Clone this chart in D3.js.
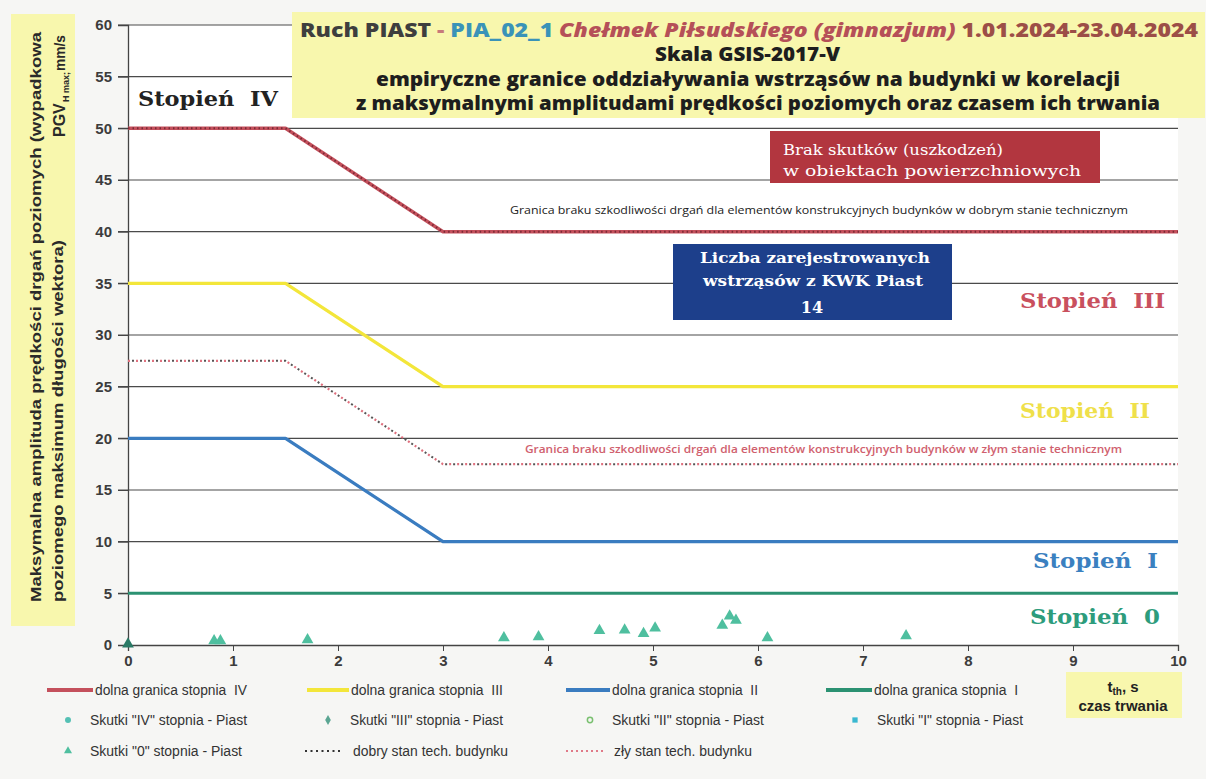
<!DOCTYPE html>
<html><head><meta charset="utf-8">
<script src="https://cdn.jsdelivr.net/npm/d3@7"></script>
<style>
html,body{margin:0;padding:0;background:#f6f6f4;}
svg{display:block;}
</style></head>
<body>
<svg id="chart" width="1206" height="779"></svg>
<script>
// ---------- data ----------
const xTicks = [0,1,2,3,4,5,6,7,8,9,10];
const yTicks = [0,5,10,15,20,25,30,35,40,45,50,55,60];
const limitX = [0, 1.5, 3, 10];
const limitIV  = [50, 50, 40, 40];   // dolna granica stopnia IV
const limitIII = [35, 35, 25, 25];   // dolna granica stopnia III
const limitII  = [20, 20, 10, 10];   // dolna granica stopnia II
const limitIX  = [0, 10];
const limitI   = [5, 5];             // dolna granica stopnia I
const goodX = [0, 1.5, 3, 10];
const goodY = [50, 50, 40, 40];      // dobry stan tech. budynku
const badY  = [27.5, 27.5, 17.5, 17.5]; // zły stan tech. budynku
// Skutki "0" stopnia - Piast  (czas trwania s, PGV mm/s)
const quakeT = [0, 0.82, 0.88, 1.71, 3.58, 3.91, 4.49, 4.73, 4.91, 5.02, 5.66, 5.73, 5.79, 6.09, 7.41];
const quakeV = [0, 0.3, 0.3, 0.4, 0.6, 0.7, 1.3, 1.35, 1.0, 1.55, 1.8, 2.7, 2.3, 0.6, 0.8];
const quakeCount = 14;

const svg = d3.select("#chart");
const x = d3.scaleLinear().domain([0,10]).range([128,1178]);
const y = d3.scaleLinear().domain([0,60]).range([645,25]);

// plot background
svg.append("rect").attr("x",128).attr("y",25).attr("width",1050).attr("height",620).attr("fill","#ffffff");

// gridlines
svg.append("g").selectAll("line").data(yTicks.filter(d=>d>0)).join("line")
  .attr("x1",118).attr("x2",1178).attr("y1",d=>y(d)).attr("y2",d=>y(d))
  .attr("stroke","#4a4a4a").attr("stroke-width",1.1);

// y axis
const yAxis = svg.append("g").attr("transform","translate(128,0)")
  .call(d3.axisLeft(y).tickValues(yTicks).tickSize(10).tickPadding(6));
yAxis.select(".domain").attr("stroke","#444").attr("stroke-width",1.3);
yAxis.selectAll(".tick line").attr("stroke","#444");
yAxis.selectAll("text").attr("font-family","Liberation Sans, Arial").attr("font-weight","bold")
  .attr("font-size",15).attr("fill","#3c3c3c");

// x axis
const xAxis = svg.append("g").attr("transform","translate(0,645)")
  .call(d3.axisBottom(x).tickValues(xTicks).tickSize(6).tickPadding(4));
xAxis.select(".domain").attr("stroke","#444").attr("stroke-width",1.3);
xAxis.selectAll(".tick line").attr("stroke","#444");
xAxis.selectAll("text").attr("font-family","Liberation Sans, Arial").attr("font-weight","bold")
  .attr("font-size",15).attr("fill","#3c3c3c");

// title box
svg.append("rect").attr("x",292).attr("y",12).attr("width",913).attr("height",106).attr("fill","#f8f7ad");
const tf = "Open Sans, Liberation Sans, Arial";
const t1 = svg.append("text").attr("x",300).attr("y",37).attr("font-family",tf).attr("font-weight","800")
  .attr("font-size",19).attr("textLength",898).attr("lengthAdjust","spacingAndGlyphs");
t1.append("tspan").attr("fill","#3e3e3e").text("Ruch PIAST ");
t1.append("tspan").attr("fill","#c77a7a").text("- ");
t1.append("tspan").attr("fill","#3a93b8").text("PIA_02_1 ");
t1.append("tspan").attr("fill","#b55058").attr("font-style","italic").text("Chełmek Piłsudskiego (gimnazjum) ");
t1.append("tspan").attr("fill","#9c4e47").text("1.01.2024-23.04.2024");
function fitText(txt, x0, x1, yb, size, color){
  svg.append("text").attr("x",x0).attr("y",yb).attr("font-family",tf).attr("font-weight","800")
    .attr("font-size",size).attr("fill",color).attr("textLength",x1-x0).attr("lengthAdjust","spacingAndGlyphs").text(txt);
}
fitText("Skala GSIS-2017-V", 655, 840, 61, 19, "#1e1e1e");
fitText("empiryczne granice oddziaływania wstrząsów na budynki w korelacji", 376, 1120, 86, 19, "#1e1e1e");
fitText("z maksymalnymi amplitudami prędkości poziomych oraz czasem ich trwania", 356, 1160, 110, 19, "#1e1e1e");

// y label box
svg.append("rect").attr("x",11).attr("y",14).attr("width",64).attr("height",612).attr("fill","#f8f7ad");
const yl = "Liberation Sans, Arial";
svg.append("text").attr("transform","translate(41,602) rotate(-90)").attr("font-family",yl).attr("font-weight","bold")
  .attr("font-size",14).attr("fill","#2a2a2a").attr("textLength",570).attr("lengthAdjust","spacingAndGlyphs")
  .text("Maksymalna amplituda prędkości drgań poziomych (wypadkowa");
svg.append("text").attr("transform","translate(63,602) rotate(-90)").attr("font-family",yl).attr("font-weight","bold")
  .attr("font-size",14).attr("fill","#2a2a2a").attr("textLength",362).attr("lengthAdjust","spacingAndGlyphs")
  .text("poziomego maksimum długości wektora)");
svg.append("text").attr("transform","translate(65,137) rotate(-90)").attr("font-family",yl).attr("font-weight","bold")
  .attr("font-size",16).attr("fill","#2a2a2a").text("PGV");
svg.append("text").attr("transform","translate(69,102) rotate(-90)").attr("font-family",yl).attr("font-weight","bold")
  .attr("font-size",9).attr("fill","#2a2a2a").text("H max;");
svg.append("text").attr("transform","translate(65,71) rotate(-90)").attr("font-family",yl).attr("font-weight","bold")
  .attr("font-size",15).attr("fill","#2a2a2a").attr("textLength",36).attr("lengthAdjust","spacingAndGlyphs").text("mm/s");

// limit lines
const line = d3.line().x(d=>x(d[0])).y(d=>y(d[1]));
function drawLimit(xs, ys, color, w){
  svg.append("path").datum(xs.map((v,i)=>[v,ys[i]])).attr("d",line).attr("fill","none")
    .attr("stroke",color).attr("stroke-width",w).attr("stroke-linejoin","round");
}
drawLimit(limitX, limitIII, "#f3e63a", 3.2);
drawLimit(limitX, limitII, "#3a7cc0", 3.2);
drawLimit(limitIX, limitI, "#2b9272", 3);
drawLimit(limitX, limitIV, "#c4505c", 3.5);
// dotted overlays
svg.append("path").datum(goodX.map((v,i)=>[v,goodY[i]])).attr("d",line).attr("fill","none")
  .attr("stroke","#7a2a35").attr("stroke-width",2).attr("stroke-dasharray","1.5,3");
svg.append("path").datum(goodX.map((v,i)=>[v,badY[i]])).attr("d",line).attr("fill","none")
  .attr("stroke","#e0707e").attr("stroke-width",2.2).attr("stroke-dasharray","2,6");
svg.append("path").datum(goodX.map((v,i)=>[v,badY[i]])).attr("d",line).attr("fill","none")
  .attr("stroke","#555").attr("stroke-width",2).attr("stroke-dasharray","2,6").attr("stroke-dashoffset",4);

// quake markers
const tri = d3.symbol().type(d3.symbolTriangle).size(60);
svg.append("g").selectAll("path").data(quakeT.map((t,i)=>[t,quakeV[i]])).join("path")
  .attr("d",tri).attr("transform",d=>`translate(${x(d[0])},${y(d[1])-1})`)
  .attr("fill",(d,i)=>i===0?"#2a7a66":"#4fbf9f");

// annotation boxes
const sf = "DejaVu Serif, Liberation Serif, serif";
svg.append("rect").attr("x",770).attr("y",131).attr("width",330).attr("height",52).attr("fill","#b2363f");
svg.append("text").attr("x",783).attr("y",155).attr("font-family",sf).attr("font-size",15).attr("fill","#fff")
  .attr("textLength",220).attr("lengthAdjust","spacingAndGlyphs").text("Brak skutków (uszkodzeń)");
svg.append("text").attr("x",783).attr("y",176).attr("font-family",sf).attr("font-size",15).attr("fill","#fff")
  .attr("textLength",298).attr("lengthAdjust","spacingAndGlyphs").text("w obiektach powierzchniowych");

svg.append("text").attr("x",510).attr("y",214).attr("font-family",tf).attr("font-size",10.5).attr("fill","#222")
  .attr("textLength",618).attr("lengthAdjust","spacingAndGlyphs")
  .text("Granica braku szkodliwości drgań dla elementów konstrukcyjnych budynków w dobrym stanie technicznym");

svg.append("rect").attr("x",673).attr("y",244).attr("width",279).attr("height",76).attr("fill","#1d3f8b");
svg.append("text").attr("x",815).attr("y",263).attr("text-anchor","middle").attr("font-family",sf).attr("font-weight","bold")
  .attr("font-size",15).attr("fill","#fff").attr("textLength",230).attr("lengthAdjust","spacingAndGlyphs").text("Liczba zarejestrowanych");
svg.append("text").attr("x",813).attr("y",286).attr("text-anchor","middle").attr("font-family",sf).attr("font-weight","bold")
  .attr("font-size",15).attr("fill","#fff").attr("textLength",220).attr("lengthAdjust","spacingAndGlyphs").text("wstrząsów z KWK Piast");
svg.append("text").attr("x",812).attr("y",313).attr("text-anchor","middle").attr("font-family",sf).attr("font-weight","bold")
  .attr("font-size",16).attr("fill","#fff").text(String(quakeCount));

svg.append("text").attr("x",525).attr("y",453).attr("font-family",tf).attr("font-weight","600").attr("font-size",10.5).attr("fill","#d0606e")
  .attr("textLength",597).attr("lengthAdjust","spacingAndGlyphs")
  .text("Granica braku szkodliwości drgań dla elementów konstrukcyjnych budynków w złym stanie technicznym");

// Stopień labels
function stopien(txt, x0, x1, yb, color){
  svg.append("text").attr("x",x0).attr("y",yb).attr("font-family",sf).attr("font-weight","bold").attr("font-size",21)
    .attr("fill",color).attr("textLength",x1-x0).attr("lengthAdjust","spacingAndGlyphs").attr("xml:space","preserve").text(txt);
}
stopien("Stopień  IV", 138, 278, 106, "#222222");
stopien("Stopień  III", 1020, 1165, 308, "#c9505e");
stopien("Stopień  II", 1020, 1150, 418, "#efe04a");
stopien("Stopień  I", 1033, 1158, 568, "#3a80c0");
stopien("Stopień  0", 1030, 1160, 624, "#2d9c7c");

// legend
const lf = "Liberation Sans, Arial";
const lg = svg.append("g");
function legText(xp, yp, w, label){
  lg.append("text").attr("x",xp).attr("y",yp).attr("font-family",lf).attr("font-size",14).attr("fill","#333")
    .attr("textLength",w).attr("lengthAdjust","spacingAndGlyphs").attr("xml:space","preserve").text(label);
}
const legendLines = [
  {x:47, w:46, color:"#c4505c", tw:152, label:"dolna granica stopnia  IV"},
  {x:307, w:42, color:"#f3e63a", tw:152, label:"dolna granica stopnia  III"},
  {x:566, w:44, color:"#3a7cc0", tw:146, label:"dolna granica stopnia  II"},
  {x:826, w:46, color:"#2b9272", tw:144, label:"dolna granica stopnia  I"}
];
legendLines.forEach(d=>{
  lg.append("line").attr("x1",d.x).attr("x2",d.x+d.w).attr("y1",690).attr("y2",690).attr("stroke",d.color).attr("stroke-width",4);
  legText(d.x+d.w+2, 695, d.tw, d.label);
});
const legendMarks = [
  {x:68, y:720, type:d3.symbolCircle, fill:"#54c0b4", stroke:"none", tw:157, label:'Skutki "IV" stopnia - Piast'},
  {x:328, y:720, type:d3.symbolDiamond, fill:"#5aa592", stroke:"none", tw:153, label:'Skutki "III" stopnia - Piast'},
  {x:590, y:720, type:d3.symbolCircle, fill:"none", stroke:"#7ac070", tw:152, label:'Skutki "II" stopnia - Piast'},
  {x:855, y:720, type:d3.symbolSquare, fill:"#3ab8d0", stroke:"none", tw:146, label:'Skutki "I" stopnia - Piast'},
  {x:68, y:751, type:d3.symbolTriangle, fill:"#4fbf9f", stroke:"none", tw:152, label:'Skutki "0" stopnia - Piast'}
];
legendMarks.forEach(d=>{
  lg.append("path").attr("d",d3.symbol().type(d.type).size(d.type===d3.symbolCircle&&d.fill==="none"?22:28)())
    .attr("transform",`translate(${d.x},${d.y})`).attr("fill",d.fill).attr("stroke",d.stroke).attr("stroke-width",1.5);
  legText(d.x+22, d.y+5, d.tw, d.label);
});
lg.append("line").attr("x1",305).attr("x2",343).attr("y1",751).attr("y2",751).attr("stroke","#333").attr("stroke-width",2).attr("stroke-dasharray","2,3.5");
legText(353, 756, 155, "dobry stan tech. budynku");
lg.append("line").attr("x1",566).attr("x2",606).attr("y1",751).attr("y2",751).attr("stroke","#e07a88").attr("stroke-width",2).attr("stroke-dasharray","2,3");
legText(614, 756, 138, "zły stan tech. budynku");

// x-axis label box
svg.append("rect").attr("x",1066).attr("y",672).attr("width",116).attr("height",46).attr("fill","#f8f7ad");
const xl = svg.append("text").attr("x",1123).attr("y",692).attr("text-anchor","middle").attr("font-family",yl)
  .attr("font-weight","bold").attr("font-size",15).attr("fill","#222");
xl.append("tspan").text("t");
xl.append("tspan").attr("font-size",10).attr("dy",3).text("th");
xl.append("tspan").attr("dy",-3).text(", s");
svg.append("text").attr("x",1123).attr("y",711).attr("text-anchor","middle").attr("font-family",yl)
  .attr("font-weight","bold").attr("font-size",15).attr("fill","#222").text("czas trwania");
</script>
</body></html>
